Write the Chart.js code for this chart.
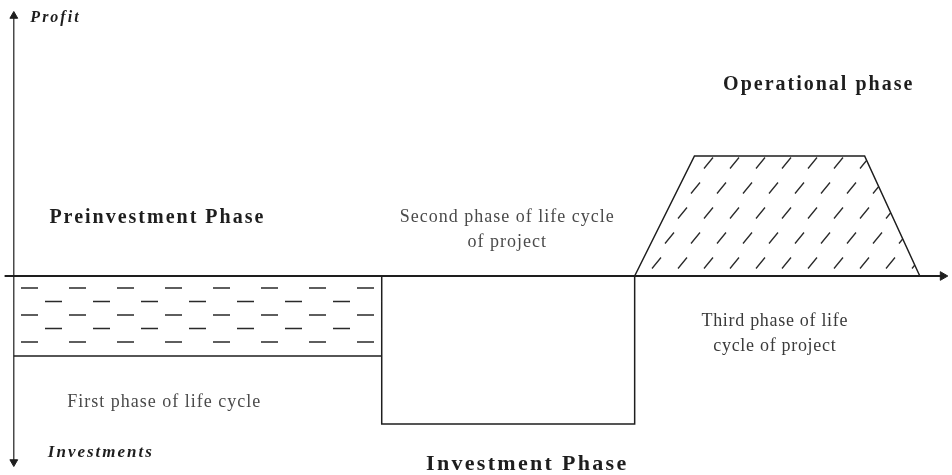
<!DOCTYPE html>
<html>
<head>
<meta charset="utf-8">
<script src="https://cdn.jsdelivr.net/npm/chart.js@4.4.1/dist/chart.umd.min.js"></script>
<style>
  html, body { margin: 0; padding: 0; background: #fff; }
  canvas { display: block; }
</style>
</head>
<body>
<canvas id="lifeCycle" width="952" height="475"></canvas>
<script>
// phase boundaries on the time axis: preinvestment start, investment start, operational start, operational end
const phaseBounds = [0, 4, 6.75, 9.85];
// operational plateau (start, end of the flat top)
const plateau = [7.4, 9.25];
// level of each phase: preinvestment, investment, operational
const phaseLevels = [-2, -3.7, 3];
// axis extents
const axisX = [-0.1, 10.1];
const axisY = [6.5, -4.65];

const axisTitles = ["Profit", "Investments"];
const phaseTitles = ["Preinvestment Phase", "Investment Phase", "Operational phase"];
const phaseNotes = [
  ["First phase of life cycle"],
  ["Second phase of life cycle", "of project"],
  ["Third phase of life", "cycle of project"]
];

const ink = "#1e1e1e";

// horizontal dashes, five rows inside the preinvestment band
function dashPattern() {
  const c = document.createElement("canvas");
  c.width = 48; c.height = 92;
  const g = c.getContext("2d");
  g.strokeStyle = "#2a2a2a";
  g.lineWidth = 1.4;
  g.beginPath();
  [12, 25.5, 39, 52.5, 66].forEach((ry, i) => {
    if (i % 2 === 0) {
      g.moveTo(21, ry); g.lineTo(38, ry);
    } else {
      g.moveTo(45, ry); g.lineTo(48, ry);
      g.moveTo(0, ry); g.lineTo(14, ry);
    }
  });
  g.stroke();
  return g.createPattern(c, "repeat");
}

// short slashes inside the operational trapezoid
function slashPattern() {
  const c = document.createElement("canvas");
  c.width = 26; c.height = 50;
  const g = c.getContext("2d");
  g.strokeStyle = "#2a2a2a";
  g.lineWidth = 1.3;
  g.beginPath();
  g.moveTo(2, 18.5); g.lineTo(11, 7.5);
  g.moveTo(15, 43.5); g.lineTo(24, 32.5);
  g.stroke();
  return g.createPattern(c, "repeat");
}

const textItems = [
  { lines: [axisTitles[0]], x: 0.18, y: 6.45, font: "italic bold 16px 'Liberation Serif'", spacing: 2, align: "left" },
  { lines: [axisTitles[1]], x: 0.37, y: -4.42, font: "italic bold 17px 'Liberation Serif'", spacing: 2, align: "left" },
  { lines: [phaseTitles[0]], x: 1.55, y: 1.45, font: "bold 20px 'Liberation Serif'", spacing: 2, align: "center" },
  { lines: [phaseTitles[1]], x: 5.57, y: -4.72, font: "bold 22px 'Liberation Serif'", spacing: 2.3, align: "center" },
  { lines: [phaseTitles[2]], x: 8.74, y: 4.78, font: "bold 20px 'Liberation Serif'", spacing: 2, align: "center" },
  { lines: phaseNotes[0], x: 1.63, y: -3.15, font: "18px 'Liberation Serif'", spacing: 1, align: "center", color: "#4a4a4a" },
  { lines: phaseNotes[1], x: 5.36, y: 1.47, font: "18px 'Liberation Serif'", spacing: 1, align: "center", color: "#4a4a4a" },
  { lines: phaseNotes[2], x: 8.27, y: -1.12, font: "18px 'Liberation Serif'", spacing: 0.7, align: "center", color: "#3a3a3a" }
];

const textPlugin = {
  id: "phaseText",
  afterDatasetsDraw(chart) {
    const { ctx, scales: { x, y } } = chart;
    textItems.forEach(t => {
      ctx.save();
      ctx.font = t.font;
      ctx.letterSpacing = t.spacing + "px";
      ctx.fillStyle = t.color || ink;
      ctx.textAlign = t.align;
      ctx.textBaseline = "middle";
      const px = x.getPixelForValue(t.x);
      const py = y.getPixelForValue(t.y);
      t.lines.forEach((line, i) => {
        const shift = t.align === "center" ? t.spacing / 2 : 0;
        ctx.fillText(line, px + shift, py + i * 25);
      });
      ctx.restore();
    });
  }
};

const canvas = document.getElementById("lifeCycle");

new Chart(canvas, {
  type: "line",
  data: {
    datasets: [
      {
        label: "Preinvestment",
        data: [
          { x: phaseBounds[0], y: phaseLevels[0] },
          { x: phaseBounds[1], y: phaseLevels[0] }
        ],
        borderColor: ink,
        borderWidth: 1.5,
        backgroundColor: dashPattern(),
        fill: "origin",
        pointRadius: 0
      },
      {
        label: "Investment",
        data: [
          { x: phaseBounds[1], y: 0 },
          { x: phaseBounds[1], y: phaseLevels[1] },
          { x: phaseBounds[2], y: phaseLevels[1] },
          { x: phaseBounds[2], y: 0 }
        ],
        borderColor: ink,
        borderWidth: 1.5,
        fill: false,
        pointRadius: 0
      },
      {
        label: "Operational",
        data: [
          { x: phaseBounds[2], y: 0 },
          { x: plateau[0], y: phaseLevels[2] },
          { x: plateau[1], y: phaseLevels[2] },
          { x: phaseBounds[3], y: 0 }
        ],
        borderColor: ink,
        borderWidth: 1.5,
        backgroundColor: slashPattern(),
        fill: "origin",
        pointRadius: 0
      },
      {
        label: "Time axis",
        data: [
          { x: axisX[0], y: 0 },
          { x: axisX[1], y: 0 }
        ],
        borderColor: ink,
        backgroundColor: ink,
        borderWidth: 1.8,
        fill: false,
        pointStyle: "triangle",
        pointRadius: [0, 5],
        pointRotation: [0, 90],
        pointBorderWidth: 1
      },
      {
        label: "Profit axis",
        data: [
          { x: 0, y: axisY[0] },
          { x: 0, y: axisY[1] }
        ],
        borderColor: ink,
        backgroundColor: ink,
        borderWidth: 1.2,
        fill: false,
        pointStyle: "triangle",
        pointRadius: [4.5, 4.5],
        pointRotation: [0, 180],
        pointBorderWidth: 1
      }
    ]
  },
  options: {
    responsive: false,
    animation: false,
    layout: { padding: 0, autoPadding: false },
    elements: { line: { tension: 0 } },
    plugins: {
      legend: { display: false },
      tooltip: { enabled: false }
    },
    scales: {
      x: { type: "linear", display: false, min: -0.15, max: 10.2 },
      y: { type: "linear", display: false, min: -4.975, max: 6.9 }
    }
  },
  plugins: [textPlugin]
});
</script>
</body>
</html>
